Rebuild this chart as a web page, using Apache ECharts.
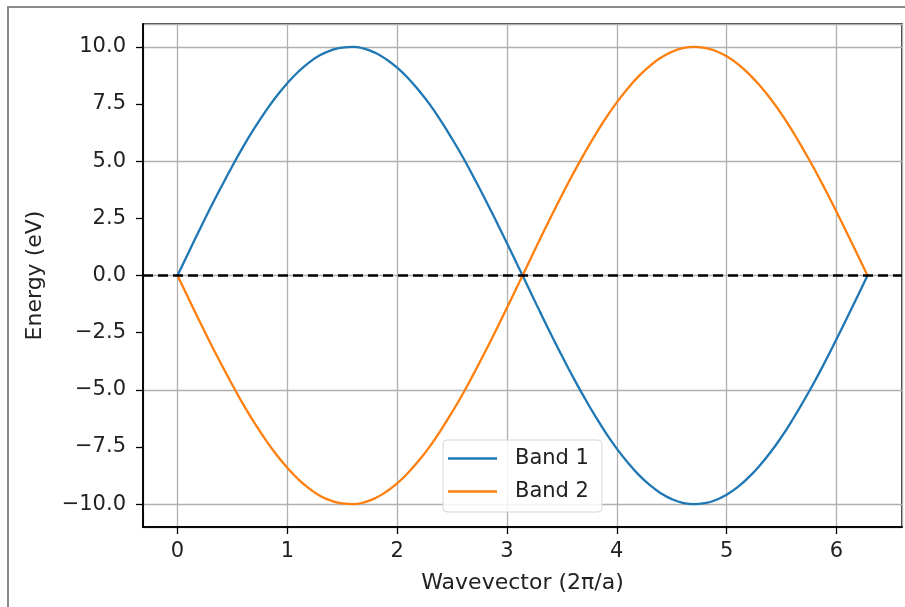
<!DOCTYPE html>
<html lang="en">
<head>
    <meta charset="UTF-8">
    <title>Band structure</title>
    <style>
        html, body {
            margin: 0;
            padding: 0;
            background: #fff;
            overflow: hidden;
        }
        #chart {
            width: 905px;
            height: 607px;
        }
    </style>
</head>
<body>
    <div id="chart"></div>

<script type="text/javascript" src="https://cdn.jsdelivr.net/npm/echarts@6.0.0/dist/echarts.min.js"></script>
<script type="text/javascript">

    // wavevector samples
    var kValues = [0, 0.1, 0.2, 0.3, 0.4, 0.5, 0.6, 0.7, 0.8, 0.9, 1.0, 1.1, 1.2, 1.3, 1.4, 1.5, 1.6, 1.7, 1.8, 1.9,
        2.0, 2.1, 2.2, 2.3, 2.4, 2.5, 2.6, 2.7, 2.8, 2.9, 3.0, 3.1, 3.2, 3.3, 3.4, 3.5, 3.6, 3.7, 3.8, 3.9,
        4.0, 4.1, 4.2, 4.3, 4.4, 4.5, 4.6, 4.7, 4.8, 4.9, 5.0, 5.1, 5.2, 5.3, 5.4, 5.5, 5.6, 5.7, 5.8, 5.9,
        6.0, 6.1, 6.2, 6.283];
    var band1 = [0, 1.00, 1.99, 2.96, 3.89, 4.79, 5.65, 6.44, 7.17, 7.83, 8.41, 8.91, 9.32, 9.64, 9.85, 9.97, 10.0, 9.92, 9.74, 9.46,
        9.09, 8.63, 8.08, 7.46, 6.75, 5.98, 5.16, 4.27, 3.35, 2.39, 1.41, 0.42, -0.58, -1.58, -2.56, -3.51, -4.43, -5.30, -6.12, -6.88,
        -7.57, -8.18, -8.72, -9.16, -9.52, -9.78, -9.94, -10.0, -9.96, -9.82, -9.59, -9.26, -8.83, -8.32, -7.73, -7.06, -6.31, -5.50, -4.65, -3.74,
        -2.79, -1.82, -0.83, 0];
    var band2 = [0, -1.00, -1.99, -2.96, -3.89, -4.79, -5.65, -6.44, -7.17, -7.83, -8.41, -8.91, -9.32, -9.64, -9.85, -9.97, -10.0, -9.92, -9.74, -9.46,
        -9.09, -8.63, -8.08, -7.46, -6.75, -5.98, -5.16, -4.27, -3.35, -2.39, -1.41, -0.42, 0.58, 1.58, 2.56, 3.51, 4.43, 5.30, 6.12, 6.88,
        7.57, 8.18, 8.72, 9.16, 9.52, 9.78, 9.94, 10.0, 9.96, 9.82, 9.59, 9.26, 8.83, 8.32, 7.73, 7.06, 6.31, 5.50, 4.65, 3.74,
        2.79, 1.82, 0.83, 0];

    var xTicks = [0, 1, 2, 3, 4, 5, 6];
    var yTicks = [-10, -7.5, -5, -2.5, 0, 2.5, 5, 7.5, 10];
    var xRange = [-0.314, 6.597];
    var yRange = [-11, 11];

    function pairs(xs, ys) {
        return xs.map(function (x, i) { return [x, ys[i]]; });
    }

    var textColor = '#222';
    var gridColor = '#b0b0b0';
    var font = 'DejaVu Sans';

    // second axis of each pair only carries the tick marks
    function tickAxis(range, ticks, pos) {
        return {
            type: 'value',
            position: pos,
            min: range[0],
            max: range[1],
            axisLine: { show: true, onZero: false, lineStyle: { color: '#000', width: 1.5 } },
            axisTick: {
                show: true,
                inside: false,
                length: 7,
                customValues: ticks,
                lineStyle: { color: '#000', width: 1.3 }
            },
            axisLabel: { show: false },
            splitLine: { show: false }
        };
    }

    var option = {
        animation: false,
        backgroundColor: '#fff',
        graphic: [{
            type: 'rect',
            z: -10,
            shape: { x: 8, y: 7, width: 1000, height: 1000 },
            style: { fill: null, stroke: '#8a8a8a', lineWidth: 2 },
            silent: true
        }],
        grid: {
            left: 143,
            top: 24,
            right: 3,
            bottom: 80,
            show: true,
            borderColor: '#000',
            borderWidth: 1.5
        },
        legend: {
            orient: 'vertical',
            left: 443,
            top: 440,
            padding: [8, 13, 10, 5],
            itemGap: 12,
            itemWidth: 49,
            itemHeight: 2.5,
            icon: 'rect',
            backgroundColor: 'rgba(255,255,255,0.85)',
            borderColor: '#d6d6d6',
            borderWidth: 1,
            borderRadius: 4,
            textStyle: { fontFamily: font, fontSize: 21, color: textColor, padding: [0, 0, 0, 13] },
            data: ['Band 1', 'Band 2']
        },
        xAxis: [{
            type: 'value',
            position: 'bottom',
            min: xRange[0],
            max: xRange[1],
            name: 'Wavevector (2π/a)',
            nameLocation: 'middle',
            nameGap: 45,
            nameTextStyle: { fontFamily: font, fontSize: 22, color: textColor },
            axisLine: { show: true, onZero: false, lineStyle: { color: '#000', width: 1.5 } },
            axisTick: { show: false },
            axisLabel: {
                customValues: xTicks,
                margin: 14,
                fontFamily: font,
                fontSize: 21,
                color: textColor,
                formatter: function (v) { return String(v); }
            },
            splitLine: {
                show: true,
                customValues: xTicks,
                lineStyle: { color: gridColor, width: 1.3 }
            }
        }, tickAxis(xRange, xTicks, 'bottom')],
        yAxis: [{
            type: 'value',
            position: 'left',
            min: yRange[0],
            max: yRange[1],
            name: 'Energy (eV)',
            nameLocation: 'middle',
            nameGap: 97,
            nameTextStyle: { fontFamily: font, fontSize: 22, color: textColor },
            axisLine: { show: true, onZero: false, lineStyle: { color: '#000', width: 1.5 } },
            axisTick: { show: false },
            axisLabel: {
                customValues: yTicks,
                margin: 17,
                fontFamily: font,
                fontSize: 21,
                color: textColor,
                formatter: function (v) { return v.toFixed(1).replace('-', '\u2212'); }
            },
            splitLine: {
                show: true,
                customValues: yTicks,
                lineStyle: { color: gridColor, width: 1.3 }
            }
        }, tickAxis(yRange, yTicks, 'left')],
        series: [{
            name: 'Band 1',
            type: 'line',
            data: pairs(kValues, band1),
            smooth: true,
            symbol: 'none',
            lineStyle: { color: '#1f77b4', width: 2.3 },
            itemStyle: { color: '#1f77b4' }
        }, {
            name: 'Band 2',
            type: 'line',
            data: pairs(kValues, band2),
            smooth: true,
            symbol: 'none',
            lineStyle: { color: '#ff7f0e', width: 2.3 },
            itemStyle: { color: '#ff7f0e' },
            markLine: {
                silent: true,
                symbol: ['none', 'none'],
                label: { show: false },
                lineStyle: { color: '#000', type: [10, 5], width: 2.6 },
                data: [{ yAxis: 0 }]
            }
        }]
    };

    var chart = echarts.init(document.getElementById('chart'));
    chart.setOption(option);

</script>
</body>
</html>
